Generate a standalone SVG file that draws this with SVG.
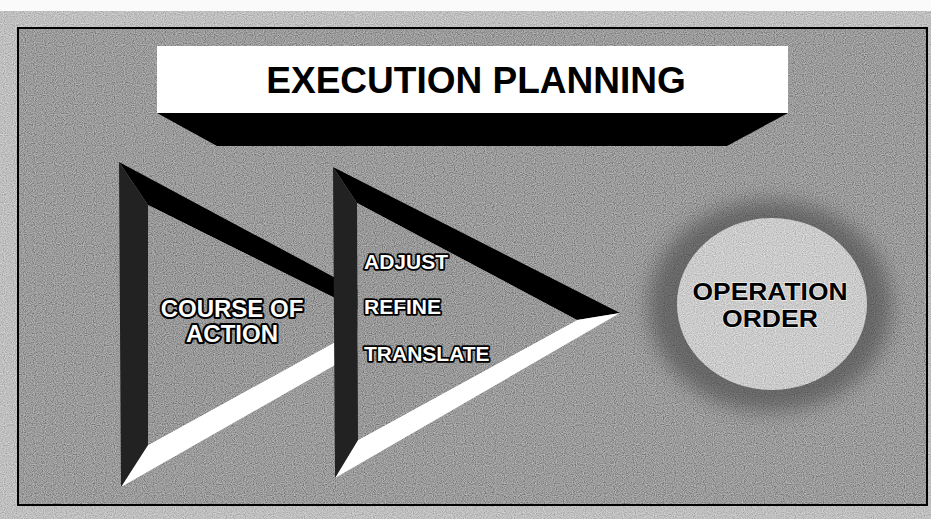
<svg xmlns="http://www.w3.org/2000/svg" width="931" height="519" viewBox="0 0 931 519">
<defs>
<style>
.title{font-family:"Liberation Sans",Arial,sans-serif;font-weight:bold;font-size:37px;fill:#000;text-anchor:middle}
.lbl{font-family:"Liberation Sans",Arial,sans-serif;font-weight:bold;fill:#fff;stroke:#000;stroke-linejoin:round;paint-order:stroke}
.coa{font-size:24px;stroke-width:4;text-anchor:middle}
.step{font-size:21px;stroke-width:3.5}
.op{font-family:"Liberation Sans",Arial,sans-serif;font-weight:bold;font-size:24px;fill:#000;stroke:#eee;stroke-width:1.5;paint-order:stroke;text-anchor:middle}
.dark{fill:#222}
.blk{fill:#000}
.wht{fill:#fff}
.face{fill:#868686}
</style>
<filter id="grain" x="0" y="0" width="1" height="1">
<feTurbulence type="fractalNoise" baseFrequency="0.9" numOctaves="1" seed="7" result="t"/>
<feColorMatrix in="t" type="matrix" values="1.2 1.2 1.2 0 -1.3  1.2 1.2 1.2 0 -1.3  1.2 1.2 1.2 0 -1.3  0 0 0 0 0.3" result="g"/>
<feComposite in="g" in2="SourceAlpha" operator="in" result="gc"/>
<feMerge><feMergeNode in="SourceGraphic"/><feMergeNode in="gc"/></feMerge>
</filter>
<filter id="blur" x="-30%" y="-30%" width="160%" height="160%">
<feGaussianBlur stdDeviation="10"/>
</filter>
</defs>

<g id="background">
<rect x="0" y="0" width="931" height="519" fill="#c0c0c0" filter="url(#grain)"/>
<rect x="0" y="0" width="931" height="11" fill="#fafafa"/>
<rect x="18" y="28" width="909" height="477" fill="#8a8a8a" filter="url(#grain)"/>
<rect x="18" y="28" width="909" height="477" fill="none" stroke="#000" stroke-width="2"/>
</g>

<g id="banner">
<rect x="157" y="46" width="631" height="67" fill="#fff"/>
<polygon points="157,113 788,113 727,146 217,146" class="blk"/>
<text x="476" y="93" class="title">EXECUTION PLANNING</text>
</g>

<g id="course-of-action">
<polygon points="119,162 414,320 377,319 148,205" class="blk"/>
<polygon points="121,487 414,320 377,319 148,445" class="wht"/>
<polygon points="148,205 377,319 148,445" class="face" filter="url(#grain)"/>
<polygon points="119,162 148,205 148,445 121,487" class="dark"/>
<text x="232" y="317" class="lbl coa">COURSE OF</text>
<text x="232" y="342" class="lbl coa">ACTION</text>
</g>

<g id="adjust-refine-translate">
<polygon points="333,167 620,313 577,320 357,203" class="blk"/>
<polygon points="335,478 620,313 577,320 358,440" class="wht"/>
<polygon points="357,203 577,320 358,440" class="face" filter="url(#grain)"/>
<polygon points="333,167 357,203 358,440 335,478" class="dark"/>
<text x="364" y="269" class="lbl step">ADJUST</text>
<text x="364" y="314" class="lbl step">REFINE</text>
<text x="364" y="361" class="lbl step">TRANSLATE</text>
</g>

<g id="operation-order">
<ellipse cx="770" cy="306" rx="122" ry="106" fill="#3c3c3c" opacity="0.55" filter="url(#blur)"/>
<ellipse cx="772" cy="304" rx="95" ry="86" fill="#d0d0d0" filter="url(#grain)"/>
<text x="770" y="300" class="op" textLength="155" lengthAdjust="spacingAndGlyphs">OPERATION</text>
<text x="770" y="327" class="op" textLength="96" lengthAdjust="spacingAndGlyphs">ORDER</text>
</g>

<g id="connectors"/>
</svg>
